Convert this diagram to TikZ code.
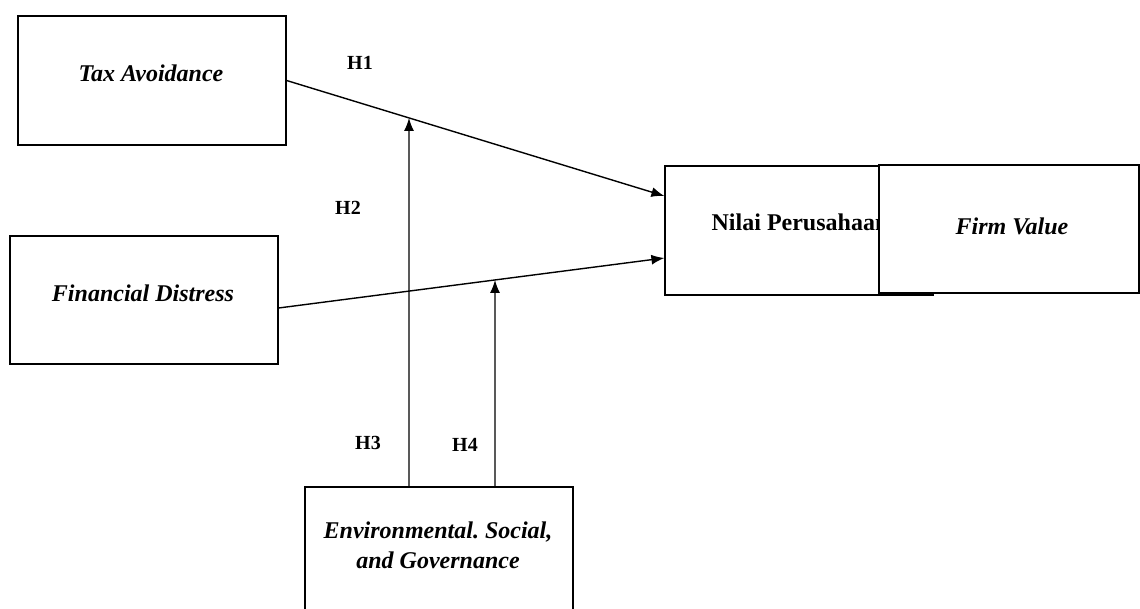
\documentclass[tikz,border=0pt]{standalone}
\usepackage{fontspec}
\setmainfont{Liberation Serif}
\usetikzlibrary{arrows.meta,intersections,calc}
\frenchspacing
\tikzset{
  box/.style={draw=black, line width=1.2pt, fill=white, inner sep=0pt},
  lbl/.style={font=\fontsize{24}{30}\selectfont\bfseries\itshape, align=center, inner sep=0pt},
  hyp/.style={font=\fontsize{20}{24}\selectfont\bfseries, inner sep=0pt},
  conn/.style={line width=1.4pt, -{Latex[length=13pt,width=10pt]}},
}
\begin{document}
\begin{tikzpicture}[x=1pt,y=-1pt]
\useasboundingbox (0,0) rectangle (1140,609);
% boxes
\node[box, minimum width=268pt, minimum height=129pt] (ta) at (152,80.5) {};
\node[lbl] (tat) at (151,73) {Tax Avoidance};
\node[box, minimum width=268pt, minimum height=128pt] (fd) at (144,300) {};
\node[lbl] (fdt) at (143,293) {Financial Distress};
\node[box, minimum width=268pt, minimum height=129pt] (nv) at (799,230.5) {};
\node[font=\fontsize{24}{30}\selectfont\bfseries, inner sep=0pt] (nvt) at (800,222) {Nilai Perusahaan};
\node[box, minimum width=260pt, minimum height=128pt] (fv) at (1009,229) {};
\node[lbl] (fvt) at (1012,226) {Firm Value};
\node[box, minimum width=268pt, minimum height=140pt] (esg) at (439,557) {};
\node[lbl] (esgt) at (438,545) {Environmental. Social,\\and Governance};
% hypothesis labels
\node[hyp] (h1) at (360,63) {H1};
\node[hyp] (h2) at (348,208) {H2};
\node[hyp] (h3) at (368,443) {H3};
\node[hyp] (h4) at (465,445) {H4};
% main connectors
\coordinate (t1) at ($(nv.west)+(0,-34.5)$);
\coordinate (t2) at ($(nv.west)+(0,27.5)$);
\coordinate (s1) at (ta.east);
\coordinate (s2) at ($(fd.east)+(0,8)$);
\draw[conn, name path=p1] (s1) -- (t1);
\draw[conn, name path=p2] (s2) -- (t2);
% moderating connectors
\coordinate (b3) at (esg.north -| 409,0);
\coordinate (b4) at (esg.north -| 495,0);
\path[name path=v3] (409,0) -- (409,609);
\path[name path=v4] (495,0) -- (495,609);
\path[name intersections={of=p1 and v3, by=m1}];
\path[name intersections={of=p2 and v4, by=m2}];
\draw[conn] (b3) -- (m1);
\draw[conn] (b4) -- (m2);
\end{tikzpicture}
\end{document}
